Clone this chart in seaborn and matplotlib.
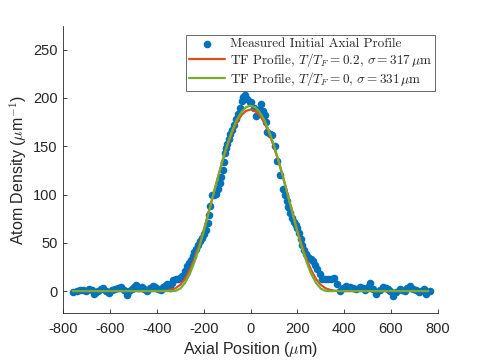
import numpy as np
import pandas as pd
import matplotlib
matplotlib.use("Agg")
import matplotlib.pyplot as plt
import seaborn as sns

# --- DATA ---
meas_x = [-760, -743, -728, -715, -702, -689, -678, -669, -659, -650, -640, -629, -616,
          -603, -590, -579, -567, -555, -542, -529, -518, -508, -498, -489, -477, -465,
          -453, -441, -430, -418, -406, -394, -383, -373, -365, -358, -350, -344, -337,
          -330, -320, -309, -300, -294, -282, -270, -262, -254, -247, -240, -232, -223,
          -216, -209, -200, -190, -183, -177, -172, -166, -158, -149, -140, -130, -125,
          -119, -114, -109, -104, -99, -94, -88, -80, -71, -62, -52, -45, -38, -31, -24,
          -13, -2, 4, 14, 25, 35, 46, 54, 61, 66, 72, 82, 92, 103, 115, 127, 140, 147,
          154, 162, 169, 178, 186, 193, 200, 207, 214, 222, 229, 238, 246, 257, 267, 276,
          286, 296, 305, 318, 331, 344, 357, 369, 381, 396, 410, 424, 438, 452, 466, 479,
          491, 501, 511, 525, 538, 552, 566, 577, 588, 598, 609, 623, 637, 648, 659, 670,
          680, 695, 709, 720, 730, 741, 751, 766]
meas_y = [-1, 0, 1, 1, 0, 2, 1, -3, -1, 0, 2, 3, 0,
          -2, 1, 2, 3, 4, 1, -4, 0, 2, 4, 6, 3, 4,
          2, 0, 3, 5, 4, 2, 1, 4, 5, 7, 5, 3, 8,
          11, 12, 13, 14, 16, 21, 26, 29, 32, 36, 40, 44, 48,
          52, 55, 59, 63, 70, 79, 88, 99, 100, 101, 106, 112, 118,
          125, 134, 143, 148, 152, 158, 163, 167, 172, 178, 183, 190, 197, 201, 203,
          199, 196, 196, 190, 181, 188, 194, 186, 182, 175, 165, 163, 162, 150, 135, 120, 106, 100,
          93, 87, 81, 76, 72, 68, 65, 60, 54, 48, 43, 38, 35, 33, 31, 27,
          23, 18, 13, 12, 12, 13, 14, 7, 0, 3, 5, 4, 3, 2, 4, 3,
          1, 4, 8, 2, -3, 1, 4, 3, 2, 0, -5, -1, 2, 1, 0, 3,
          5, 2, 1, -1, 0, 2, -3, 0]

tf0_x = [-760, -331, -320, -300, -280, -260, -240, -220, -200, -180, -160, -140, -120, -100,
         -80, -60, -40, -20, 0, 20, 40, 60, 80, 100, 120, 140, 160, 180, 200, 220, 240,
         260, 280, 300, 320, 331, 760]
tf0_y = [0, 0, 0.2, 2.6, 8.3, 17.4, 29.8, 44.7, 61.6, 80.0, 98.7, 117.3, 135.0, 151.1,
         165.2, 176.6, 185.1, 190.3, 192.0, 190.3, 185.1, 176.6, 165.2, 151.1, 135.0, 117.3,
         98.7, 80.0, 61.6, 44.7, 29.8, 17.4, 8.3, 2.6, 0.2, 0, 0]

tf02_x = [-760, -400, -380, -360, -340, -320, -300, -280, -260, -240, -220, -200, -180, -160,
          -140, -120, -100, -80, -60, -40, -20, 0, 20, 40, 60, 80, 100, 120, 140, 160, 180,
          200, 220, 240, 260, 280, 300, 320, 340, 360, 380, 400, 760]
tf02_y = [0, 0, 0.1, 0.4, 1.2, 3.0, 6.5, 12.5, 21.5, 33, 47, 63, 81, 99,
          117, 134, 149.5, 163, 174, 182, 186.5, 188, 186.5, 182, 174, 163, 149.5, 134, 117,
          99, 81, 63, 47, 33, 21.5, 12.5, 6.5, 3.0, 1.2, 0.4, 0.1, 0, 0]

labels = ['Measured Initial Axial Profile',
          r'TF Profile, $T/T_F = 0.2$, $\sigma = 317\,\mu$m',
          r'TF Profile, $T/T_F = 0$, $\sigma = 331\,\mu$m']

# --- STYLE ---
sns.set_theme(style='ticks')
plt.rcParams['font.family'] = ['Liberation Sans', 'DejaVu Sans']
plt.rcParams['mathtext.fontset'] = 'cm'
plt.rcParams['axes.unicode_minus'] = False
plt.rcParams['xtick.direction'] = 'in'
plt.rcParams['ytick.direction'] = 'in'

fig = plt.figure(figsize=(4.85, 3.63), dpi=100)
ax = fig.add_axes([0.1305, 0.137, 0.772, 0.79])

sns.scatterplot(x=meas_x, y=meas_y, ax=ax, color='#0072BD', s=30, linewidth=0,
                label=labels[0], zorder=2)
sns.lineplot(x=tf02_x, y=tf02_y, ax=ax, color='#D95319', lw=1.6, label=labels[1], zorder=3)
sns.lineplot(x=tf0_x, y=tf0_y, ax=ax, color='#77AC30', lw=1.6, label=labels[2], zorder=4)

ax.set_xlim(-800, 800)
ax.set_ylim(-23, 274)
ax.set_xticks(np.arange(-800, 801, 200))
ax.set_yticks(np.arange(0, 251, 50))
ax.tick_params(labelsize=10.5, colors='#262626', length=3, width=0.6)
ax.tick_params(axis='x', pad=6)
ax.tick_params(axis='y', pad=4)
for s in ['top', 'right']:
    ax.spines[s].set_visible(False)
for s in ['left', 'bottom']:
    ax.spines[s].set_color('#262626')
    ax.spines[s].set_linewidth(0.6)

ax.set_xlabel(r'Axial Position ($\mu$m)', fontsize=11.5, color='#262626', labelpad=3)
ax.set_ylabel(r'Atom Density ($\mu$m$^{-1}$)', fontsize=11.5, color='#262626', labelpad=3)

leg = ax.legend(loc='upper right', bbox_to_anchor=(1.0, 0.98), prop={'family': 'cmr10', 'size': 9.5},
                frameon=True, fancybox=False, edgecolor='#262626', handlelength=2.7,
                borderpad=0.25, labelspacing=0.05, handletextpad=0.4, borderaxespad=0.2)
leg.get_frame().set_linewidth(0.6)

plt.savefig('out.png', dpi=100)
